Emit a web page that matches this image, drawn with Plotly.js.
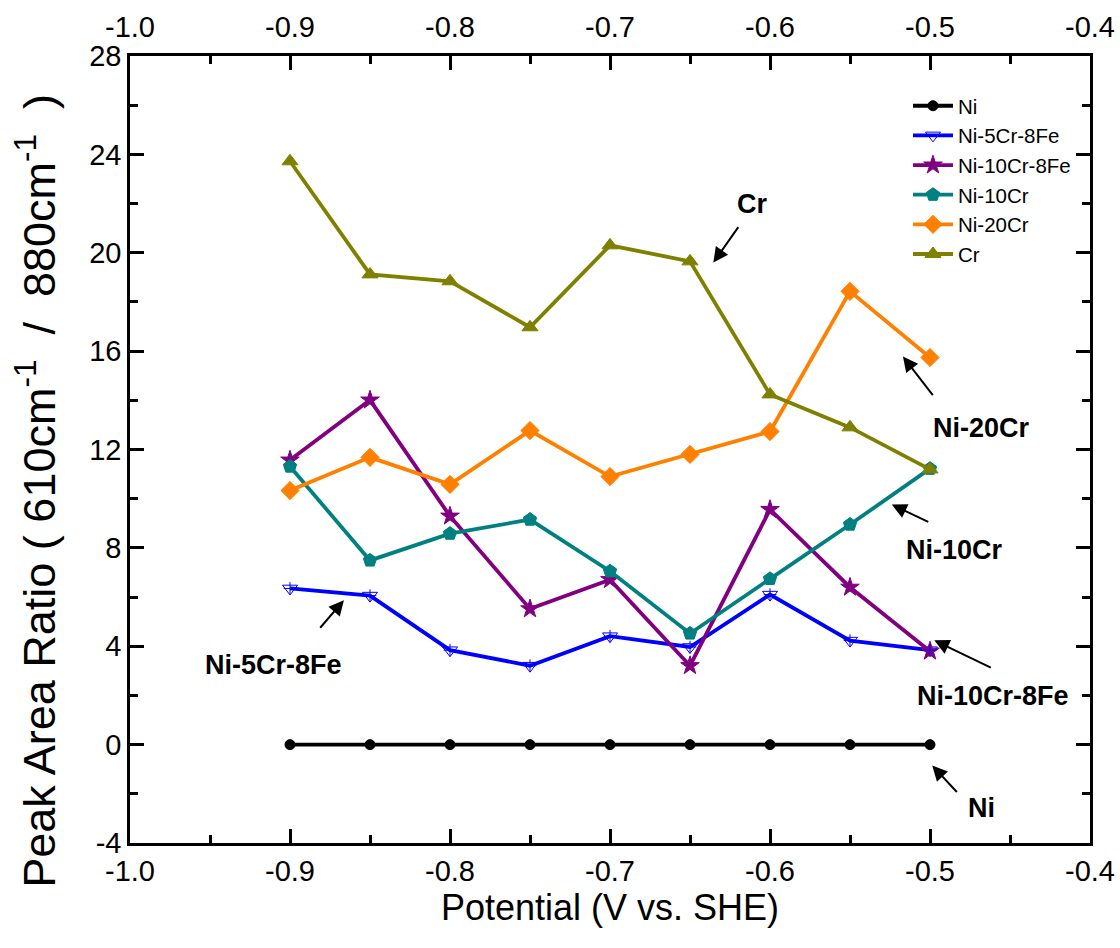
<!DOCTYPE html>
<html>
<head>
<meta charset="utf-8">
<script src="https://cdn.plot.ly/plotly-3.0.1.min.js"></script>
<style>html,body{margin:0;padding:0;background:#fff;}#chart{width:1120px;height:948px;}</style>
</head>
<body>
<div id="chart"></div>
<script>
var potential = [-0.9, -0.85, -0.8, -0.75, -0.7, -0.65, -0.6, -0.55, -0.5];
var ni        = [0, 0, 0, 0, 0, 0, 0, 0, 0];
var ni5cr8fe  = [6.35, 6.06, 3.84, 3.21, 4.41, 3.97, 6.10, 4.23, 3.84];
var ni10cr8fe = [11.57, 14.01, 9.29, 5.52, 6.71, 3.21, 9.56, 6.40, 3.80];
var ni10cr    = [11.31, 7.49, 8.58, 9.15, 7.05, 4.52, 6.74, 8.95, 11.22];
var ni20cr    = [10.33, 11.68, 10.58, 12.77, 10.90, 11.80, 12.73, 18.43, 15.74];
var cr        = [23.72, 19.12, 18.84, 16.97, 20.30, 19.65, 14.24, 12.90, 11.19];
var xTicks = [-1.0, -0.9, -0.8, -0.7, -0.6, -0.5, -0.4];
var xTickText = ['-1.0', '-0.9', '-0.8', '-0.7', '-0.6', '-0.5', '-0.4'];
var yTicks = [-4, 0, 4, 8, 12, 16, 20, 24, 28];
var yTickText = ['-4', '0', '4', '8', '12', '16', '20', '24', '28'];

function tr(name, y, color, symbol, size) {
  return {x: potential, y: y, name: name, type: 'scatter', mode: 'lines+markers',
    line: {color: color, width: 3.8},
    marker: {symbol: symbol, size: size, color: color, line: {color: color, width: 1}}};
}
var data = [
  tr('Ni', ni, '#000000', 'circle', 10),
  tr('Ni-5Cr-8Fe', ni5cr8fe, '#0000ff', 'triangle-down-open', 13),
  tr('Ni-10Cr-8Fe', ni10cr8fe, '#800080', 'star', 14),
  tr('Ni-10Cr', ni10cr, '#008080', 'pentagon', 14),
  tr('Ni-20Cr', ni20cr, '#ff8000', 'diamond', 14),
  tr('Cr', cr, '#808000', 'triangle-up', 14),
  {x: potential, y: ni5cr8fe, type: 'scatter', mode: 'markers', showlegend: false, hoverinfo: 'skip',
   marker: {symbol: 'cross-thin', size: 9, line: {color: '#0000ff', width: 1}}},
  {x: [-1.0, -0.4], y: [null, null], xaxis: 'x2', type: 'scatter', mode: 'markers', showlegend: false, hoverinfo: 'skip'}
];

var font = 'Liberation Sans, Arial, sans-serif';
function ax(o) {
  var r = {
    showgrid: false, zeroline: false, showline: true, linecolor: '#000', linewidth: 2.5,
    ticks: 'inside', ticklen: 14, tickwidth: 2.5, tickcolor: '#000',
    tickfont: {family: font, size: 29, color: '#000'}
  };
  for (var k in o) r[k] = o[k];
  return r;
}

function arrow(x, y, axp, ayp) {
  return {x: x, y: y, xref: 'x', yref: 'y', ax: axp, ay: ayp, axref: 'pixel', ayref: 'pixel',
    text: '', showarrow: true, arrowhead: 2, arrowsize: 1.5, arrowwidth: 2, arrowcolor: '#000'};
}
function label(x, y, t) {
  return {x: x, y: y, xref: 'x', yref: 'y', text: '<b>' + t + '</b>', showarrow: false,
    font: {family: font, size: 27, color: '#000'}};
}
var annotations = [
  label(-0.6114, 21.97, 'Cr'), arrow(-0.6354, 19.60, 26, -37),
  label(-0.4677, 12.88, 'Ni-20Cr'), arrow(-0.5169, 15.78, 31, 40),
  label(-0.4850, 7.93, 'Ni-10Cr'), arrow(-0.5239, 9.76, 38, 18),
  label(-0.9101, 3.25, 'Ni-5Cr-8Fe'), arrow(-0.8663, 5.87, -25, 29),
  label(-0.4606, 1.99, 'Ni-10Cr-8Fe'), arrow(-0.4973, 4.24, 58, 28),
  label(-0.4681, -2.58, 'Ni'), arrow(-0.4986, -0.85, 26, 28),
  {xref: 'paper', yref: 'paper', x: -0.0975, y: 0.448, xanchor: 'center', yanchor: 'middle', textangle: -90, showarrow: false,
   text: 'Peak Area Ratio ( 610cm<sup>-1</sup>&nbsp; / &nbsp;880cm<sup>-1</sup>&nbsp; )',
   font: {family: font, size: 45, color: '#000'}}
];

var layout = {
  width: 1120, height: 948,
  font: {family: font, size: 29, color: '#000'},
  margin: {l: 130, r: 30, t: 56, b: 105},
  paper_bgcolor: '#fff', plot_bgcolor: '#fff',
  showlegend: true,
  legend: {x: 0.8104, y: 0.962, xanchor: 'left', yanchor: 'top', bgcolor: 'rgba(0,0,0,0)',
    font: {family: font, size: 20.5, color: '#000'}, tracegroupgap: 0, itemwidth: 40},
  xaxis: ax({range: [-1.0, -0.4], tickmode: 'array', tickvals: xTicks, ticktext: xTickText, mirror: 'ticks',
    minor: {ticks: 'inside', dtick: 0.05, tick0: -1.0, ticklen: 8, tickwidth: 2.5, tickcolor: '#000'},
    title: {text: 'Potential (V vs. SHE)', font: {family: font, size: 36, color: '#000'}, standoff: 6}}),
  xaxis2: ax({range: [-1.0, -0.4], overlaying: 'x', side: 'top', tickmode: 'array', tickvals: xTicks, ticktext: xTickText,
    showline: false, ticklen: 0, ticks: '', ticklabelstandoff: 12}),
  yaxis: ax({range: [-4, 28], tickmode: 'array', tickvals: yTicks, ticktext: yTickText, mirror: 'ticks',
    minor: {ticks: 'inside', dtick: 2, tick0: -4, ticklen: 8, tickwidth: 2.5, tickcolor: '#000'}}),
  annotations: annotations
};
Plotly.newPlot('chart', data, layout, {displayModeBar: false});
</script>
</body>
</html>
